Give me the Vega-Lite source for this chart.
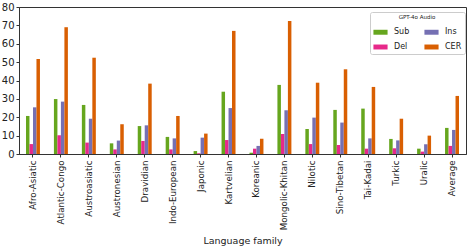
{
  "$schema": "https://vega.github.io/schema/vega-lite/v6.json",
  "width": 447,
  "height": 147,
  "autosize": {"type": "none"},
  "padding": {"left": 19, "top": 7, "right": 3, "bottom": 96},
  "background": "white",
  "config": {
    "font": "DejaVu Sans",
    "view": {"stroke": "#333", "strokeWidth": 1}
  },
  "data": {
    "values": [
      {"family": "Afro-Asiatic", "metric": "Sub", "value": 20.7},
      {"family": "Afro-Asiatic", "metric": "Del", "value": 5.4},
      {"family": "Afro-Asiatic", "metric": "Ins", "value": 25.4},
      {"family": "Afro-Asiatic", "metric": "CER", "value": 51.7},
      {"family": "Atlantic-Congo", "metric": "Sub", "value": 29.9},
      {"family": "Atlantic-Congo", "metric": "Del", "value": 10.2},
      {"family": "Atlantic-Congo", "metric": "Ins", "value": 28.5},
      {"family": "Atlantic-Congo", "metric": "CER", "value": 69.0},
      {"family": "Austroasiatic", "metric": "Sub", "value": 26.7},
      {"family": "Austroasiatic", "metric": "Del", "value": 6.2},
      {"family": "Austroasiatic", "metric": "Ins", "value": 19.2},
      {"family": "Austroasiatic", "metric": "CER", "value": 52.4},
      {"family": "Austronesian", "metric": "Sub", "value": 5.8},
      {"family": "Austronesian", "metric": "Del", "value": 2.5},
      {"family": "Austronesian", "metric": "Ins", "value": 7.3},
      {"family": "Austronesian", "metric": "CER", "value": 16.2},
      {"family": "Dravidian", "metric": "Sub", "value": 15.2},
      {"family": "Dravidian", "metric": "Del", "value": 7.1},
      {"family": "Dravidian", "metric": "Ins", "value": 15.6},
      {"family": "Dravidian", "metric": "CER", "value": 38.3},
      {"family": "Indo-European", "metric": "Sub", "value": 9.3},
      {"family": "Indo-European", "metric": "Del", "value": 2.5},
      {"family": "Indo-European", "metric": "Ins", "value": 8.5},
      {"family": "Indo-European", "metric": "CER", "value": 20.7},
      {"family": "Japonic", "metric": "Sub", "value": 1.6},
      {"family": "Japonic", "metric": "Del", "value": 0.4},
      {"family": "Japonic", "metric": "Ins", "value": 8.9},
      {"family": "Japonic", "metric": "CER", "value": 11.1},
      {"family": "Kartvelian", "metric": "Sub", "value": 33.9},
      {"family": "Kartvelian", "metric": "Del", "value": 7.6},
      {"family": "Kartvelian", "metric": "Ins", "value": 25.0},
      {"family": "Kartvelian", "metric": "CER", "value": 67.0},
      {"family": "Koreanic", "metric": "Sub", "value": 0.7},
      {"family": "Koreanic", "metric": "Del", "value": 2.9},
      {"family": "Koreanic", "metric": "Ins", "value": 4.4},
      {"family": "Koreanic", "metric": "CER", "value": 8.3},
      {"family": "Mongolic-Khitan", "metric": "Sub", "value": 37.6},
      {"family": "Mongolic-Khitan", "metric": "Del", "value": 10.9},
      {"family": "Mongolic-Khitan", "metric": "Ins", "value": 23.8},
      {"family": "Mongolic-Khitan", "metric": "CER", "value": 72.4},
      {"family": "Nilotic", "metric": "Sub", "value": 13.6},
      {"family": "Nilotic", "metric": "Del", "value": 5.4},
      {"family": "Nilotic", "metric": "Ins", "value": 19.8},
      {"family": "Nilotic", "metric": "CER", "value": 38.8},
      {"family": "Sino-Tibetan", "metric": "Sub", "value": 24.0},
      {"family": "Sino-Tibetan", "metric": "Del", "value": 4.9},
      {"family": "Sino-Tibetan", "metric": "Ins", "value": 17.1},
      {"family": "Sino-Tibetan", "metric": "CER", "value": 46.1},
      {"family": "Tai-Kadai", "metric": "Sub", "value": 24.7},
      {"family": "Tai-Kadai", "metric": "Del", "value": 2.9},
      {"family": "Tai-Kadai", "metric": "Ins", "value": 8.5},
      {"family": "Tai-Kadai", "metric": "CER", "value": 36.5},
      {"family": "Turkic", "metric": "Sub", "value": 8.2},
      {"family": "Turkic", "metric": "Del", "value": 3.1},
      {"family": "Turkic", "metric": "Ins", "value": 7.4},
      {"family": "Turkic", "metric": "CER", "value": 19.2},
      {"family": "Uralic", "metric": "Sub", "value": 2.9},
      {"family": "Uralic", "metric": "Del", "value": 1.3},
      {"family": "Uralic", "metric": "Ins", "value": 5.3},
      {"family": "Uralic", "metric": "CER", "value": 10.0},
      {"family": "Average", "metric": "Sub", "value": 14.2},
      {"family": "Average", "metric": "Del", "value": 4.4},
      {"family": "Average", "metric": "Ins", "value": 13.1},
      {"family": "Average", "metric": "CER", "value": 31.6}
    ]
  },
  "mark": {"type": "bar"},
  "encoding": {
    "x": {
      "field": "family",
      "type": "nominal",
      "sort": null,
      "scale": {"paddingInner": 0.5, "paddingOuter": 0.25},
      "axis": {
        "title": "Language family",
        "titleFont": "DejaVu Sans",
        "titleFontSize": 9.5,
        "titleFontWeight": "normal",
        "titleColor": "#222",
        "titlePadding": 6,
        "labelAngle": -90,
        "labelFontSize": 8.7,
        "labelColor": "#222",
        "labelPadding": 3,
        "tickColor": "#333",
        "tickSize": 3,
        "domainColor": "#333"
      }
    },
    "xOffset": {
      "field": "metric",
      "type": "nominal",
      "sort": ["Sub", "Del", "Ins", "CER"],
      "scale": {"paddingInner": 0, "paddingOuter": 0}
    },
    "y": {
      "field": "value",
      "type": "quantitative",
      "scale": {"domain": [0, 80], "nice": false},
      "axis": {
        "title": null,
        "values": [0, 10, 20, 30, 40, 50, 60, 70, 80],
        "grid": false,
        "labelFontSize": 10,
        "labelColor": "#222",
        "tickColor": "#333",
        "tickSize": 3,
        "domainColor": "#333",
        "labelPadding": 2
      }
    },
    "color": {
      "field": "metric",
      "type": "nominal",
      "scale": {
        "domain": ["Sub", "Del", "Ins", "CER"],
        "range": ["#66a61e", "#e7298a", "#7570b3", "#d95f02"]
      },
      "legend": {
        "title": "GPT-4o Audio",
        "orient": "none",
        "legendX": 351,
        "legendY": 5,
        "columns": 2,
        "columnPadding": 14,
        "rowPadding": 3,
        "titleFontSize": 5.5,
        "titleFontWeight": "normal",
        "titleAnchor": "middle",
        "titleColor": "#222",
        "titlePadding": 4,
        "labelFontSize": 8,
        "labelColor": "#222",
        "labelOffset": 6,
        "symbolType": "M-1,-0.35L1,-0.35L1,0.35L-1,0.35Z",
        "symbolSize": 200,
        "symbolStrokeWidth": 0,
        "symbolOpacity": 1,
        "padding": 3,
        "strokeColor": "#ccc",
        "fillColor": "white",
        "cornerRadius": 2
      }
    }
  }
}
